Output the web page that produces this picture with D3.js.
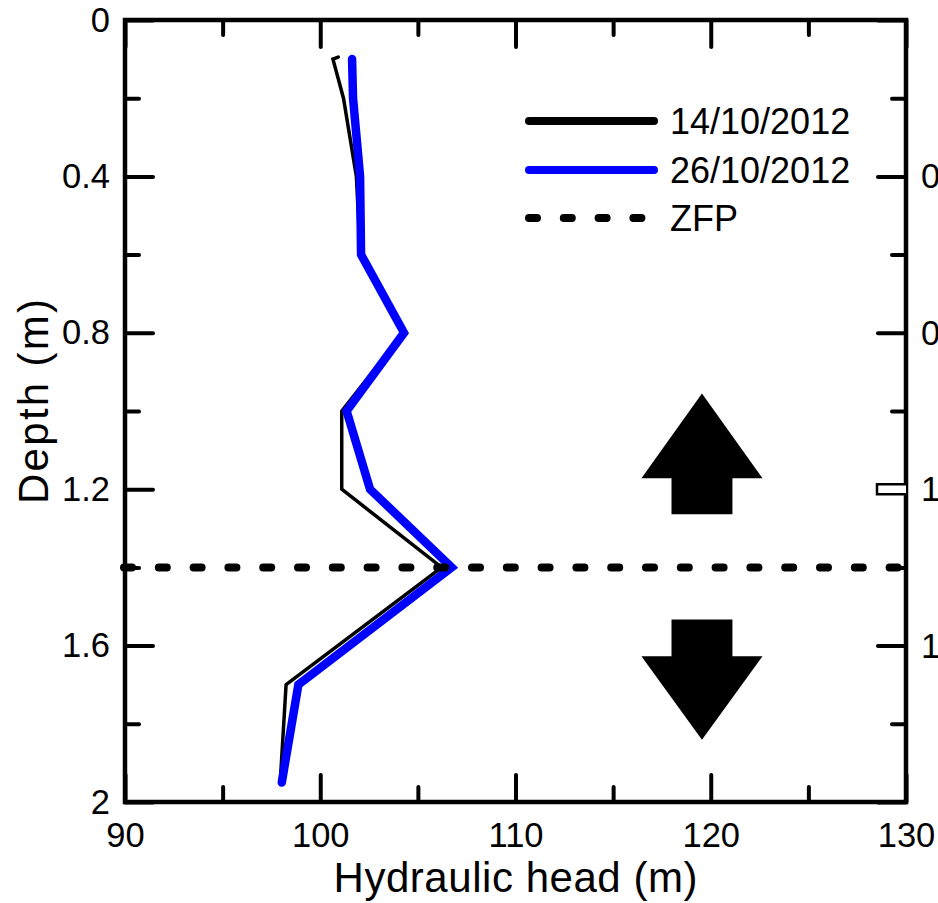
<!DOCTYPE html>
<html>
<head>
<meta charset="utf-8">
<script src="https://cdn.jsdelivr.net/npm/d3@7"></script>
<style>
  html, body { margin: 0; padding: 0; background: #fff; }
  svg { display: block; }
  text { font-family: "Liberation Sans", Arial, sans-serif; fill: #000; }
</style>
</head>
<body>
<svg id="chart" width="938" height="903"></svg>
<script>
// Hydraulic head profiles with depth (two survey dates) and the zero-flux plane
const depth1410 = [0.095, 0.1, 0.2, 0.4, 0.6, 0.8, 1.0, 1.2, 1.4, 1.7, 1.95];
const head1410  = [100.92, 100.65, 101.19, 101.85, 102.05, 104.25, 101.1, 101.1, 106.22, 98.25, 97.95];

const depth2610 = [0.1, 0.2, 0.4, 0.6, 0.8, 1.0, 1.2, 1.4, 1.7, 1.95];
const head2610  = [101.63, 101.68, 102.04, 102.09, 104.29, 101.35, 102.55, 106.73, 98.88, 98.03];

const zfpDepth = 1.4;

const seriesNames = ["14/10/2012", "26/10/2012", "ZFP"];
const xMajorTicks = [90, 100, 110, 120, 130];
const xMinorTicks = [95, 105, 115, 125];
const yMajorTicks = [0, 0.4, 0.8, 1.2, 1.6, 2];
const yMinorTicks = [0.2, 0.6, 1.0, 1.4, 1.8];
const xTitle = "Hydraulic head (m)";
const yTitle = "Depth (m)";

// flow-direction arrows around the ZFP (x centre, half widths, depths)
const arrowCentre = 119.55;
const arrowHeadHalf = 3.1;
const arrowShaftHalf = 1.56;
const upArrow   = { tip: 0.955, base: 1.172, tail: 1.264 };
const downArrow = { tip: 1.841, base: 1.627, tail: 1.533 };

// labels of the adjacent panel's depth axis, clipped by the page edge
const sideLabels = ["0.4", "0.8", "1.2", "1.6"];
const sideLabelDepths = [0.4, 0.8, 1.2, 1.6];

const svg = d3.select("#chart");
const plotL = 125, plotR = 906, plotT = 20, plotB = 802;

const x = d3.scaleLinear().domain([90, 130]).range([plotL, plotR]);
const y = d3.scaleLinear().domain([0, 2]).range([plotT, plotB]);

const fontSize = 34.5;

// axes: inward ticks on all four sides
function styleAxis(g) {
  g.select(".domain").remove();
  g.selectAll(".tick line").attr("stroke", "#000").attr("stroke-width", 4).attr("stroke-linecap", "round");
  g.selectAll(".tick text").attr("font-size", fontSize).attr("font-family", "Liberation Sans, Arial, sans-serif");
}

svg.append("g").attr("transform", `translate(0,${plotB})`)
  .call(d3.axisBottom(x).tickValues(xMajorTicks).tickSize(-27).tickPadding(21).tickFormat(d3.format("d")))
  .call(styleAxis);
svg.append("g").attr("transform", `translate(0,${plotB})`)
  .call(d3.axisBottom(x).tickValues(xMinorTicks).tickSize(-15).tickFormat(""))
  .call(styleAxis);
svg.append("g").attr("transform", `translate(0,${plotT})`)
  .call(d3.axisTop(x).tickValues(xMajorTicks).tickSize(-27).tickFormat(""))
  .call(styleAxis);
svg.append("g").attr("transform", `translate(0,${plotT})`)
  .call(d3.axisTop(x).tickValues(xMinorTicks).tickSize(-15).tickFormat(""))
  .call(styleAxis);

svg.append("g").attr("transform", `translate(${plotL},0)`)
  .call(d3.axisLeft(y).tickValues(yMajorTicks).tickSize(-28).tickPadding(15).tickFormat(d => String(d)))
  .call(styleAxis);
svg.append("g").attr("transform", `translate(${plotL},0)`)
  .call(d3.axisLeft(y).tickValues(yMinorTicks).tickSize(-14).tickFormat(""))
  .call(styleAxis);
svg.append("g").attr("transform", `translate(${plotR},0)`)
  .call(d3.axisRight(y).tickValues(yMajorTicks).tickSize(-28).tickFormat(""))
  .call(styleAxis);
svg.append("g").attr("transform", `translate(${plotR},0)`)
  .call(d3.axisRight(y).tickValues(yMinorTicks).tickSize(-14).tickFormat(""))
  .call(styleAxis);

// frame
svg.append("rect")
  .attr("x", plotL).attr("y", plotT)
  .attr("width", plotR - plotL).attr("height", plotB - plotT)
  .attr("fill", "none").attr("stroke", "#000").attr("stroke-width", 4.5);

// arrows
function arrowPath(a) {
  const p = d3.path();
  p.moveTo(x(arrowCentre), y(a.tip));
  p.lineTo(x(arrowCentre + arrowHeadHalf), y(a.base));
  p.lineTo(x(arrowCentre + arrowShaftHalf), y(a.base));
  p.lineTo(x(arrowCentre + arrowShaftHalf), y(a.tail));
  p.lineTo(x(arrowCentre - arrowShaftHalf), y(a.tail));
  p.lineTo(x(arrowCentre - arrowShaftHalf), y(a.base));
  p.lineTo(x(arrowCentre - arrowHeadHalf), y(a.base));
  p.closePath();
  return p.toString();
}
svg.append("path").attr("d", arrowPath(upArrow)).attr("fill", "#000");
svg.append("path").attr("d", arrowPath(downArrow)).attr("fill", "#000");

// profiles
const line = d3.line().x(d => x(d[1])).y(d => y(d[0]));
const black = depth1410.map((d, i) => [d, head1410[i]]);
const blue = depth2610.map((d, i) => [d, head2610[i]]);

svg.append("path").datum(black).attr("d", line)
  .attr("fill", "none").attr("stroke", "#000").attr("stroke-width", 3.5)
  .attr("stroke-linejoin", "miter").attr("stroke-linecap", "round");
svg.append("path").datum(blue).attr("d", line)
  .attr("fill", "none").attr("stroke", "#0000ff").attr("stroke-width", 8.5)
  .attr("stroke-linejoin", "miter").attr("stroke-linecap", "round");

// zero-flux plane
svg.append("line")
  .attr("x1", x(90) - 1).attr("x2", x(130))
  .attr("y1", y(zfpDepth)).attr("y2", y(zfpDepth))
  .attr("stroke", "#000").attr("stroke-width", 8)
  .attr("stroke-dasharray", "8,26.8").attr("stroke-linecap", "round");

// legend
const legend = svg.append("g");
const legX1 = 529, legX2 = 654, legTextX = 670;
const legY = [121, 170, 218];
legend.append("line").attr("x1", legX1).attr("x2", legX2).attr("y1", legY[0]).attr("y2", legY[0])
  .attr("stroke", "#000").attr("stroke-width", 8).attr("stroke-linecap", "round");
legend.append("line").attr("x1", legX1).attr("x2", legX2).attr("y1", legY[1]).attr("y2", legY[1])
  .attr("stroke", "#0000ff").attr("stroke-width", 8).attr("stroke-linecap", "round");
legend.append("line").attr("x1", legX1).attr("x2", legX2).attr("y1", legY[2]).attr("y2", legY[2])
  .attr("stroke", "#000").attr("stroke-width", 8).attr("stroke-dasharray", "8,26.8").attr("stroke-linecap", "round");
seriesNames.forEach((n, i) => {
  legend.append("text").attr("x", legTextX).attr("y", legY[i] + 12.5)
    .attr("font-size", 36).text(n);
});

// axis titles
svg.append("text").attr("x", (plotL + plotR) / 2).attr("y", 892)
  .attr("text-anchor", "middle").attr("font-size", 42)
  .attr("textLength", 364).attr("lengthAdjust", "spacing").text(xTitle);
svg.append("text")
  .attr("transform", `translate(48,401.5) rotate(-90)`)
  .attr("text-anchor", "middle").attr("font-size", 42)
  .attr("textLength", 205).attr("lengthAdjust", "spacing").text(yTitle);

// adjacent panel fragments at the right edge
svg.selectAll("text.side").data(sideLabels).enter().append("text")
  .attr("class", "side")
  .attr("x", 921).attr("y", (d, i) => y(sideLabelDepths[i]) + 12)
  .attr("font-size", fontSize).text(d => d);
svg.append("path")
  .attr("d", `M${plotR},${y(1.2) - 5}H${plotR - 29}V${y(1.2) + 5}H${plotR}`)
  .attr("fill", "#fff").attr("stroke", "#000").attr("stroke-width", 2.5);
</script>
</body>
</html>
